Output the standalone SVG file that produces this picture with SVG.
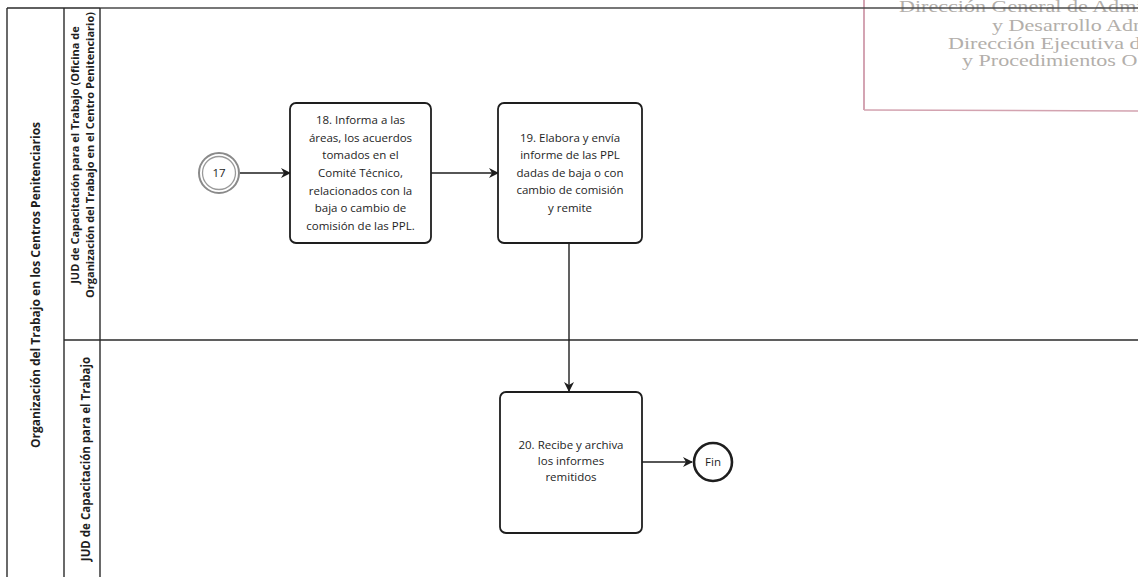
<svg xmlns="http://www.w3.org/2000/svg" width="1138" height="577" viewBox="0 0 1138 577">
  <style>
    .frame { stroke: #2a2a2a; stroke-width: 1.4; fill: none; }
    .task { fill: #ffffff; stroke: #1e1e1e; stroke-width: 1.8; }
    .txt { font-family: "Open Sans", "Liberation Sans", sans-serif; font-size: 11.5px; fill: #1e1e1e; text-anchor: middle; }
    .lbl { font-family: "Open Sans", "Liberation Sans", sans-serif; font-weight: bold; fill: #1e1e1e; text-anchor: middle; }
    .flow { stroke: #1e1e1e; stroke-width: 1.4; fill: none; marker-end: url(#arrow); }
    .stamp { font-family: "Liberation Serif", serif; font-size: 17px; fill: #b3afab; }
  </style>
  <defs>
    <marker id="arrow" viewBox="0 0 10 10" refX="9" refY="5" markerWidth="10" markerHeight="10" markerUnits="userSpaceOnUse" orient="auto">
      <path d="M0,0 L10,5 L0,10 L3,5 z" fill="#1e1e1e"/>
    </marker>
  </defs>

  <rect width="1138" height="577" fill="#ffffff"/>

  <!-- office stamp in the upper right corner -->
  <g id="stamp">
    <line x1="864" y1="0" x2="864" y2="110" stroke="#c98ea0" stroke-width="1.6"/>
    <line x1="864" y1="110" x2="1138" y2="111" stroke="#d3a3b0" stroke-width="1.4"/>
    <g transform="translate(899,12) scale(1.3,1)"><text class="stamp">Dirección General de Admi</text></g>
    <g transform="translate(992,31) scale(1.3,1)"><text class="stamp">y Desarrollo Adm</text></g>
    <g transform="translate(948,49) scale(1.3,1)"><text class="stamp">Dirección Ejecutiva d</text></g>
    <g transform="translate(962,66) scale(1.3,1)"><text class="stamp">y Procedimientos O</text></g>
  </g>

  <!-- pool and lanes -->
  <g id="pool">
    <line class="frame" x1="7" y1="8" x2="100" y2="8"/>
    <line x1="100" y1="8" x2="1138" y2="8" stroke="#4a4a4a" stroke-width="1.3"/>
    <line class="frame" x1="7" y1="8" x2="7" y2="577"/>
    <line class="frame" x1="64" y1="8" x2="64" y2="577"/>
    <text class="lbl" font-size="12" transform="translate(40,285) rotate(-90)">Organización del Trabajo en los Centros Penitenciarios</text>
  </g>
  <g id="lane-oficina">
    <line class="frame" x1="100" y1="8" x2="100" y2="577"/>
    <text class="lbl" font-size="11" transform="translate(79,155) rotate(-90)">JUD de Capacitación para el Trabajo (Oficina de</text>
    <text class="lbl" font-size="11" transform="translate(94,155) rotate(-90)">Organización del Trabajo en el Centro Penitenciario)</text>
  </g>
  <g id="lane-jud">
    <line class="frame" x1="64" y1="340" x2="1138" y2="340"/>
    <text class="lbl" font-size="11.5" transform="translate(90,459) rotate(-90)">JUD de Capacitación para el Trabajo</text>
  </g>

  <!-- connectors -->
  <g id="connectors">
    <line class="flow" x1="240" y1="173" x2="290" y2="173"/>
    <line class="flow" x1="431" y1="173" x2="498" y2="173"/>
    <line class="flow" x1="569" y1="243" x2="569" y2="391"/>
    <line class="flow" x1="642" y1="462" x2="692" y2="462"/>
  </g>

  <g id="event-17">
    <circle cx="219" cy="173" r="20" fill="#ffffff" stroke="#8a8a8a" stroke-width="2"/>
    <circle cx="219" cy="173" r="16.5" fill="none" stroke="#9a9a9a" stroke-width="1.3"/>
    <text class="txt" x="219" y="177" font-size="11">17</text>
  </g>

  <g id="task-18">
    <rect class="task" x="290" y="103" width="141" height="140" rx="6"/>
    <text class="txt" x="360.5" y="124">18. Informa a las</text>
    <text class="txt" x="360.5" y="142">áreas, los acuerdos</text>
    <text class="txt" x="360.5" y="159">tomados en el</text>
    <text class="txt" x="360.5" y="177">Comité  Técnico,</text>
    <text class="txt" x="360.5" y="195">relacionados con la</text>
    <text class="txt" x="360.5" y="212">baja o cambio de</text>
    <text class="txt" x="360.5" y="230">comisión de las PPL.</text>
  </g>

  <g id="task-19">
    <rect class="task" x="498" y="103" width="144" height="140" rx="6"/>
    <text class="txt" x="570" y="142">19. Elabora y envía</text>
    <text class="txt" x="570" y="159">informe de las PPL</text>
    <text class="txt" x="570" y="177">dadas de baja o con</text>
    <text class="txt" x="570" y="194">cambio de comisión</text>
    <text class="txt" x="570" y="212">y remite</text>
  </g>

  <g id="task-20">
    <rect class="task" x="500" y="392" width="142" height="141" rx="6"/>
    <text class="txt" x="571" y="449">20. Recibe y archiva</text>
    <text class="txt" x="571" y="465">los informes</text>
    <text class="txt" x="571" y="481">remitidos</text>
  </g>

  <g id="event-fin">
    <circle cx="713" cy="462" r="19" fill="#ffffff" stroke="#1e1e1e" stroke-width="2.6"/>
    <text class="txt" x="713" y="466" font-size="11">Fin</text>
  </g>
</svg>
